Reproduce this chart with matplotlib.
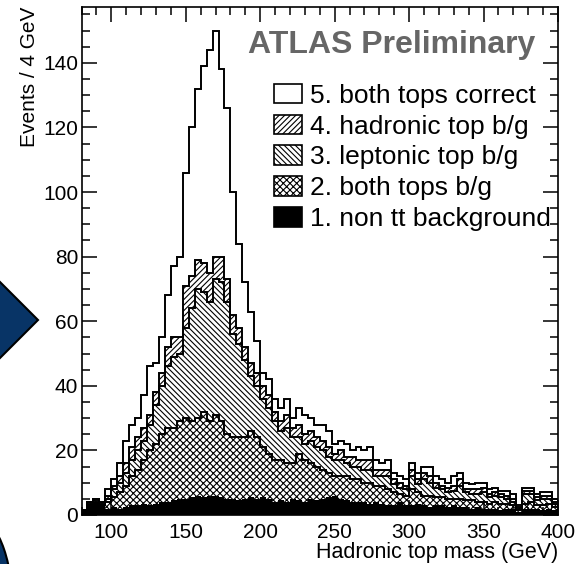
import matplotlib.pyplot as plt
import matplotlib.patches as mpatches
import numpy as np

plt.rcParams['font.family'] = ['Liberation Sans', 'DejaVu Sans']
plt.rcParams['hatch.linewidth'] = 0.8

# bin edges, 4 GeV bins from 80 to 400 GeV
edges = np.arange(80, 401, 4)

# upper edge of each stacked layer, bins 80-84 ... 396-400
top_bkg = [1.5, 3, 4, 3, 2, 2.5, 2, 2.5, 3, 3, 3.5, 3, 3.5, 4, 4, 4.5, 5, 5, 5.5, 6,
           5.5, 6, 6, 5.5, 5, 5, 4.5, 5, 5.5, 5, 5.5, 5, 4, 4.5, 4, 5, 4.5, 4, 5, 4.5,
           5, 5.5, 6, 5, 4.5, 4, 4, 4, 3.5, 4, 3.5, 3, 3, 4, 3, 3, 3.5, 3, 2.5, 3,
           3, 2.5, 3, 2.5, 2.5, 2, 2.5, 2, 2, 2, 1.5, 2, 2, 1, 2, 2, 2, 1.5, 2, 1.5]
top_both_bg = [1.5, 3, 4, 3, 4, 5.5, 7, 9, 12, 14, 17, 20, 22, 25, 27, 27, 29, 30, 29, 30,
               32, 29, 31, 29, 25, 24, 24, 24, 26, 24, 21, 19, 17, 17, 16, 16, 19, 17, 16, 15,
               14, 13, 12, 12, 12, 11, 11, 10, 10, 9, 9, 8, 7, 6.5, 6, 8, 7, 6, 6, 5.5,
               5.5, 5, 5, 5, 4.5, 4.5, 4, 4, 3.5, 4, 3.5, 3.5, 3, 1.5, 3.5, 4, 3, 3, 3.5, 2.5]
top_lep_bg = [1.5, 3.5, 4.5, 3.5, 5, 8, 10, 13, 17, 20, 23, 28, 34, 40, 46, 49, 50, 58, 64, 70,
              69, 66, 73, 72, 66, 56, 53, 48, 43, 40, 36, 33, 29, 26, 27, 24, 24, 22, 23, 21,
              20, 18, 17, 17, 16, 15, 15, 14, 14, 12, 12, 12, 9.5, 8.5, 8, 12, 9.5, 11, 10, 8.5,
              8, 7, 7.5, 9, 7, 6.5, 6.5, 7, 5.5, 6, 5.5, 5, 4, 2, 6.5, 6.5, 4.5, 5, 5, 3.5]
top_had_bg = [1.5, 4, 5, 4, 6, 9, 12, 16, 21, 24, 27, 31, 38, 44, 52, 55, 55, 71, 74, 79,
              78, 75, 80, 80, 73, 62, 58, 52, 47, 44, 40, 37, 32, 29, 31, 27, 28, 25, 26, 24,
              23, 21, 19, 20, 18, 18, 17, 17, 17, 14, 14, 14, 11, 10, 9, 14, 11, 13, 12, 10,
              9, 8.5, 9, 11, 8, 8, 8, 8.5, 6.5, 7, 6.5, 6, 5, 2.5, 7.5, 7.5, 5.5, 6, 6, 4]
top_correct = [1.5, 4, 5, 4, 8, 11, 16, 23, 28, 30, 37, 46, 47, 55, 68, 77, 80, 106, 120, 132,
               139, 144, 150, 138, 126, 100, 84, 72, 63, 54, 44, 42, 36, 33, 36, 30, 33, 31, 30, 28,
               28, 26, 22, 23, 22, 20, 21, 20, 21, 17, 16, 17, 13, 12, 11, 16, 13, 15, 15, 12,
               11, 10, 12, 13, 10, 9.5, 10, 10, 8, 8.5, 7.5, 7.5, 6.5, 3, 8.5, 8.5, 6.5, 7, 7, 5]

labels = ['5. both tops correct', '4. hadronic top b/g', '3. leptonic top b/g',
          '2. both tops b/g', '1. non tt background']

fig = plt.figure(figsize=(5.84, 5.64), dpi=100)
ax = fig.add_axes([0.1396, 0.0869, 0.8159, 0.9007])

layers = [
    (top_correct, top_had_bg, dict(facecolor='white', hatch=None)),
    (top_had_bg, top_lep_bg, dict(facecolor='white', hatch='//////')),
    (top_lep_bg, top_both_bg, dict(facecolor='white', hatch='\\\\\\\\\\\\')),
    (top_both_bg, top_bkg, dict(facecolor='white', hatch='xxxxx')),
    (top_bkg, np.zeros(len(top_bkg)), dict(facecolor='black', hatch=None)),
]
for top, base, style in layers:
    ax.stairs(top, edges, baseline=base, fill=True, edgecolor='black',
              linewidth=0, **style)
for top in [top_correct, top_had_bg, top_lep_bg, top_both_bg]:
    ax.stairs(top, edges, color='black', linewidth=1.4)

ax.set_xlim(80, 400)
ax.set_ylim(0, 157.3)
ax.set_xticks([100, 150, 200, 250, 300, 350, 400])
ax.set_xticks(np.arange(80, 401, 10), minor=True)
ax.set_yticks(np.arange(0, 141, 20))
ax.set_yticks(np.arange(0, 156, 5), minor=True)
ax.tick_params(which='both', direction='in', top=True, right=True, width=1.1,
               labelsize=15)
ax.tick_params(axis='y', pad=2.5)
ax.tick_params(axis='x', pad=6)
ax.tick_params(which='major', length=11)
ax.tick_params(which='minor', length=5.5)
for s in ax.spines.values():
    s.set_linewidth(1.2)

ax.set_ylabel('Events / 4 GeV', fontsize=15, loc='top', labelpad=3)
ax.set_xlabel('Hadronic top mass (GeV)', fontsize=15.5, loc='right', labelpad=0)

ax.text(0.35, 0.925, 'ATLAS Preliminary', transform=ax.transAxes, fontsize=23,
        fontweight='bold', color='#666666', va='center', ha='left')

handles = [
    mpatches.Patch(facecolor='white', edgecolor='black', linewidth=1.2),
    mpatches.Patch(facecolor='white', edgecolor='black', linewidth=1.2, hatch='//////'),
    mpatches.Patch(facecolor='white', edgecolor='black', linewidth=1.2, hatch='\\\\\\\\\\\\'),
    mpatches.Patch(facecolor='white', edgecolor='black', linewidth=1.2, hatch='xxxxx'),
    mpatches.Patch(facecolor='black', edgecolor='black', linewidth=1.2),
]
ax.legend(handles, labels, loc='upper left', bbox_to_anchor=(0.403, 0.849),
          frameon=False, fontsize=19, handlelength=1.06, handleheight=0.76,
          handletextpad=0.33, labelspacing=0.26, borderpad=0, borderaxespad=0)

# slide decorations at the left edge
fig.patches.append(mpatches.Polygon([(-10 / 584, 1 - 272 / 564), (38 / 584, 1 - 320 / 564),
                                     (-10 / 584, 1 - 368 / 564)], closed=True,
                                    facecolor='#083466', edgecolor='black', linewidth=1.5,
                                    transform=fig.transFigure, figure=fig))
fig.patches.append(mpatches.Ellipse((-20 / 584, 1 - 620 / 564), 68 / 584, 200 / 564,
                                    facecolor='#083466', edgecolor='black', linewidth=1.5,
                                    transform=fig.transFigure, figure=fig))

fig.savefig('out.png', dpi=100)
